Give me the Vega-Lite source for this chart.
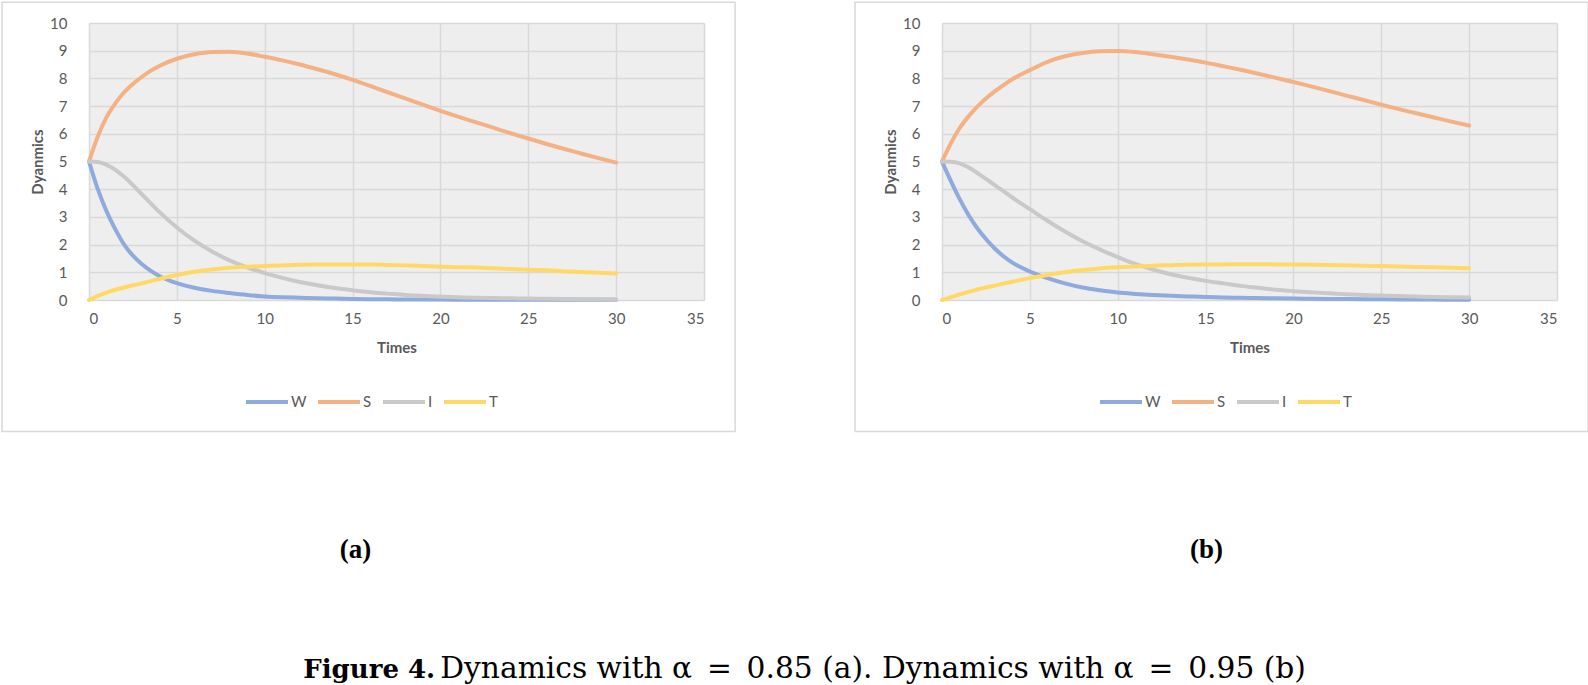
{
  "$schema": "https://vega.github.io/schema/vega-lite/v6.json",
  "background": "white",
  "padding": {"left": 1, "top": 1, "right": 0, "bottom": 0},
  "config": {
    "view": {"fill": "#eeeeee", "stroke": null},
    "axis": {
      "labelFont": "Lato", "labelFontSize": 15, "labelColor": "#595959",
      "titleFont": "Lato", "titleFontSize": 15, "titleFontWeight": "bold", "titleColor": "#595959",
      "domain": false, "ticks": false, "gridColor": "#d9d9d9", "gridWidth": 1.5
    },
    "axisX": {"labelPadding": 11, "titlePadding": 14},
    "axisY": {"labelPadding": 22, "titlePadding": 4},
    "legend": {
      "labelFont": "Lato", "labelFontSize": 15, "labelColor": "#595959",
      "symbolType": "stroke", "symbolSize": 1764, "symbolStrokeWidth": 4,
      "labelOffset": 1, "columnPadding": 3, "padding": 0
    }
  },
  "datasets": {
    "a": [
      {"t": 0, "W": 5, "S": 5, "I": 5, "T": 0},
      {"t": 0.5, "W": 4.0, "S": 5.9, "I": 4.98, "T": 0.15},
      {"t": 1, "W": 3.2, "S": 6.6, "I": 4.88, "T": 0.27},
      {"t": 1.5, "W": 2.55, "S": 7.1, "I": 4.7, "T": 0.37},
      {"t": 2, "W": 2.0, "S": 7.5, "I": 4.45, "T": 0.45},
      {"t": 2.5, "W": 1.6, "S": 7.8, "I": 4.15, "T": 0.53},
      {"t": 3, "W": 1.3, "S": 8.05, "I": 3.82, "T": 0.6},
      {"t": 3.5, "W": 1.06, "S": 8.27, "I": 3.5, "T": 0.68},
      {"t": 4, "W": 0.87, "S": 8.45, "I": 3.18, "T": 0.76},
      {"t": 5, "W": 0.61, "S": 8.71, "I": 2.62, "T": 0.9},
      {"t": 6, "W": 0.44, "S": 8.87, "I": 2.14, "T": 1.02},
      {"t": 7, "W": 0.33, "S": 8.95, "I": 1.75, "T": 1.1},
      {"t": 8, "W": 0.25, "S": 8.96, "I": 1.43, "T": 1.16},
      {"t": 9, "W": 0.18, "S": 8.9, "I": 1.18, "T": 1.2},
      {"t": 10, "W": 0.13, "S": 8.78, "I": 0.97, "T": 1.23},
      {"t": 11, "W": 0.1, "S": 8.65, "I": 0.8, "T": 1.25},
      {"t": 12, "W": 0.08, "S": 8.5, "I": 0.65, "T": 1.27},
      {"t": 13, "W": 0.06, "S": 8.33, "I": 0.53, "T": 1.28},
      {"t": 14, "W": 0.05, "S": 8.15, "I": 0.43, "T": 1.285},
      {"t": 15, "W": 0.04, "S": 7.95, "I": 0.35, "T": 1.285},
      {"t": 16, "W": 0.03, "S": 7.73, "I": 0.28, "T": 1.28},
      {"t": 17, "W": 0.025, "S": 7.5, "I": 0.23, "T": 1.265},
      {"t": 18, "W": 0.02, "S": 7.28, "I": 0.18, "T": 1.25},
      {"t": 19, "W": 0.018, "S": 7.05, "I": 0.15, "T": 1.225},
      {"t": 20, "W": 0.015, "S": 6.83, "I": 0.12, "T": 1.2},
      {"t": 21, "W": 0.013, "S": 6.62, "I": 0.1, "T": 1.185},
      {"t": 22, "W": 0.012, "S": 6.42, "I": 0.08, "T": 1.17},
      {"t": 23, "W": 0.011, "S": 6.22, "I": 0.07, "T": 1.145},
      {"t": 24, "W": 0.01, "S": 6.02, "I": 0.06, "T": 1.12},
      {"t": 25, "W": 0.01, "S": 5.83, "I": 0.05, "T": 1.09},
      {"t": 26, "W": 0.008, "S": 5.64, "I": 0.045, "T": 1.07},
      {"t": 27, "W": 0.007, "S": 5.46, "I": 0.04, "T": 1.04},
      {"t": 28, "W": 0.006, "S": 5.29, "I": 0.03, "T": 1.01},
      {"t": 29, "W": 0.005, "S": 5.12, "I": 0.025, "T": 0.985},
      {"t": 30, "W": 0.005, "S": 4.96, "I": 0.02, "T": 0.96}
    ],
    "b": [
      {"t": 0, "W": 5, "S": 5, "I": 5, "T": 0},
      {"t": 0.5, "W": 4.3, "S": 5.65, "I": 4.99, "T": 0.1},
      {"t": 1, "W": 3.65, "S": 6.2, "I": 4.93, "T": 0.2},
      {"t": 1.5, "W": 3.08, "S": 6.62, "I": 4.79, "T": 0.29},
      {"t": 2, "W": 2.6, "S": 6.97, "I": 4.59, "T": 0.38},
      {"t": 2.5, "W": 2.2, "S": 7.27, "I": 4.37, "T": 0.45},
      {"t": 3, "W": 1.86, "S": 7.53, "I": 4.15, "T": 0.52},
      {"t": 3.5, "W": 1.58, "S": 7.76, "I": 3.93, "T": 0.59},
      {"t": 4, "W": 1.35, "S": 7.97, "I": 3.7, "T": 0.66},
      {"t": 5, "W": 1.03, "S": 8.3, "I": 3.28, "T": 0.79},
      {"t": 6, "W": 0.79, "S": 8.6, "I": 2.86, "T": 0.9},
      {"t": 7, "W": 0.6, "S": 8.8, "I": 2.47, "T": 1.0},
      {"t": 8, "W": 0.45, "S": 8.92, "I": 2.12, "T": 1.08},
      {"t": 9, "W": 0.35, "S": 8.98, "I": 1.82, "T": 1.14},
      {"t": 10, "W": 0.27, "S": 8.99, "I": 1.55, "T": 1.18},
      {"t": 11, "W": 0.22, "S": 8.95, "I": 1.3, "T": 1.21},
      {"t": 12, "W": 0.18, "S": 8.87, "I": 1.1, "T": 1.24},
      {"t": 13, "W": 0.15, "S": 8.78, "I": 0.93, "T": 1.255},
      {"t": 14, "W": 0.13, "S": 8.68, "I": 0.8, "T": 1.27},
      {"t": 15, "W": 0.11, "S": 8.57, "I": 0.69, "T": 1.28},
      {"t": 16, "W": 0.09, "S": 8.44, "I": 0.6, "T": 1.285},
      {"t": 17, "W": 0.08, "S": 8.31, "I": 0.51, "T": 1.29},
      {"t": 18, "W": 0.07, "S": 8.17, "I": 0.44, "T": 1.29},
      {"t": 19, "W": 0.06, "S": 8.02, "I": 0.37, "T": 1.285},
      {"t": 20, "W": 0.05, "S": 7.87, "I": 0.32, "T": 1.28},
      {"t": 21, "W": 0.045, "S": 7.71, "I": 0.28, "T": 1.273},
      {"t": 22, "W": 0.04, "S": 7.55, "I": 0.24, "T": 1.265},
      {"t": 23, "W": 0.035, "S": 7.38, "I": 0.21, "T": 1.253},
      {"t": 24, "W": 0.03, "S": 7.22, "I": 0.18, "T": 1.24},
      {"t": 25, "W": 0.025, "S": 7.05, "I": 0.16, "T": 1.225},
      {"t": 26, "W": 0.02, "S": 6.89, "I": 0.14, "T": 1.21},
      {"t": 27, "W": 0.018, "S": 6.74, "I": 0.125, "T": 1.195},
      {"t": 28, "W": 0.015, "S": 6.59, "I": 0.11, "T": 1.18},
      {"t": 29, "W": 0.012, "S": 6.44, "I": 0.1, "T": 1.165},
      {"t": 30, "W": 0.01, "S": 6.3, "I": 0.09, "T": 1.15}
    ],
    "frame": [
      {"t": -4.95, "t2": 36.77, "v": -4.75, "v2": 10.75}
    ]
  },
  "title": {
    "text": "Figure 4.",
    "orient": "bottom", "anchor": "start", "offset": -27, "dx": 302,
    "font": "DejaVu Serif", "fontSize": 26, "fontWeight": "bold", "color": "#000000"
  },
  "vconcat": [
    {
      "title": {
        "text": "Dynamics with α\u2002=\u20020.85 (a). Dynamics with α\u2002=\u20020.95 (b)",
        "orient": "bottom", "anchor": "start", "offset": 92, "dx": 439,
        "font": "DejaVu Serif", "fontSize": 29.7, "fontWeight": "normal", "color": "#000000"
      },
      "spacing": 118,
      "resolve": {"scale": {"color": "independent"}},
      "hconcat": [
        {
          "width": 615,
          "height": 277,
          "title": {
            "text": "(a)", "orient": "bottom", "offset": 105, "dx": -41,
            "font": "Liberation Serif", "fontSize": 27, "fontWeight": "bold", "color": "#000000"
          },
          "layer": [
            {
              "data": {"name": "frame"},
              "mark": {"type": "rect", "fill": null, "stroke": "#d9d9d9", "strokeWidth": 1.5, "clip": false},
              "encoding": {
                "x": {"field": "t", "type": "quantitative", "scale": {"domain": [0, 35]}, "axis": {"values": [0, 5, 10, 15, 20, 25, 30, 35], "title": "Times"}},
                "x2": {"field": "t2"},
                "y": {"field": "v", "type": "quantitative", "scale": {"domain": [0, 10]}, "axis": {"values": [0, 1, 2, 3, 4, 5, 6, 7, 8, 9, 10], "title": "Dyanmics"}},
                "y2": {"field": "v2"}
              }
            },
            {
              "data": {"name": "a"},
              "transform": [{"fold": ["W", "S", "I", "T"], "as": ["series", "value"]}],
              "mark": {"type": "line", "strokeWidth": 4, "interpolate": "monotone", "strokeCap": "round"},
              "encoding": {
                "x": {"field": "t", "type": "quantitative", "scale": {"domain": [0, 35]}, "axis": {"values": [0, 5, 10, 15, 20, 25, 30, 35], "title": "Times"}},
                "y": {"field": "value", "type": "quantitative", "scale": {"domain": [0, 10]}, "axis": {"values": [0, 1, 2, 3, 4, 5, 6, 7, 8, 9, 10], "title": "Dyanmics"}},
                "color": {
                  "field": "series", "type": "nominal",
                  "scale": {"domain": ["W", "S", "I", "T"], "range": ["#8faadc", "#f4b183", "#c9c9c9", "#ffd966"]},
                  "legend": {"title": null, "orient": "none", "direction": "horizontal", "legendX": 155, "legendY": 356}
                }
              }
            }
          ]
        },
        {
          "width": 615,
          "height": 277,
          "title": {
            "text": "(b)", "orient": "bottom", "offset": 105, "dx": -43,
            "font": "Liberation Serif", "fontSize": 27, "fontWeight": "bold", "color": "#000000"
          },
          "layer": [
            {
              "data": {"name": "frame"},
              "mark": {"type": "rect", "fill": null, "stroke": "#d9d9d9", "strokeWidth": 1.5, "clip": false},
              "encoding": {
                "x": {"field": "t", "type": "quantitative", "scale": {"domain": [0, 35]}, "axis": {"values": [0, 5, 10, 15, 20, 25, 30, 35], "title": "Times"}},
                "x2": {"field": "t2"},
                "y": {"field": "v", "type": "quantitative", "scale": {"domain": [0, 10]}, "axis": {"values": [0, 1, 2, 3, 4, 5, 6, 7, 8, 9, 10], "title": "Dyanmics"}},
                "y2": {"field": "v2"}
              }
            },
            {
              "data": {"name": "b"},
              "transform": [{"fold": ["W", "S", "I", "T"], "as": ["series", "value"]}],
              "mark": {"type": "line", "strokeWidth": 4, "interpolate": "monotone", "strokeCap": "round"},
              "encoding": {
                "x": {"field": "t", "type": "quantitative", "scale": {"domain": [0, 35]}, "axis": {"values": [0, 5, 10, 15, 20, 25, 30, 35], "title": "Times"}},
                "y": {"field": "value", "type": "quantitative", "scale": {"domain": [0, 10]}, "axis": {"values": [0, 1, 2, 3, 4, 5, 6, 7, 8, 9, 10], "title": "Dyanmics"}},
                "color": {
                  "field": "series", "type": "nominal",
                  "scale": {"domain": ["W", "S", "I", "T"], "range": ["#8faadc", "#f4b183", "#c9c9c9", "#ffd966"]},
                  "legend": {"title": null, "orient": "none", "direction": "horizontal", "legendX": 156, "legendY": 356}
                }
              }
            }
          ]
        }
      ]
    }
  ]
}
